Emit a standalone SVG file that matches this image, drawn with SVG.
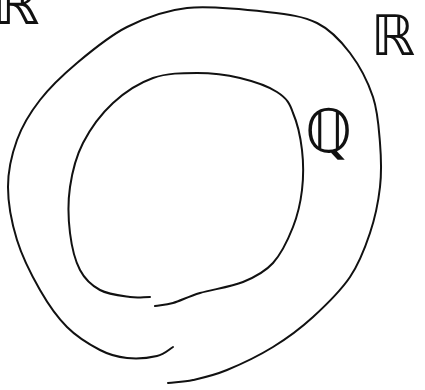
<svg xmlns="http://www.w3.org/2000/svg" width="425" height="390" viewBox="0 0 425 390">
<style>
.c{fill:none;stroke:#111;stroke-width:2;stroke-linecap:round;stroke-linejoin:round}
.t{font-family:"DejaVu Sans",sans-serif;fill:#111}
</style>
<rect width="425" height="390" fill="#fff"/>
<g id="connectors">
<path id="outer" class="c" d="M173,347 C168,350 164.7,354.2 157,356 C149.3,357.8 136.5,359 127,358 C117.5,357 110,355.2 100,350 C90,344.8 77,337 67,327 C57,317 48.3,304.5 40,290 C31.7,275.5 22.3,257.2 17,240 C11.7,222.8 8,203.7 8,187 C8,170.3 11.7,154.5 17,140 C22.3,125.5 30,112.8 40,100 C50,87.2 62.5,75.2 77,63 C91.5,50.8 108.7,36.2 127,27 C145.3,17.8 163.7,10.5 187,8 C210.3,5.5 245.3,9.5 267,12 C288.7,14.5 303.2,16.2 317,23 C330.8,29.8 340.7,40.7 350,53 C359.3,65.3 368,82 373,97 C378,112 378.8,128 380,143 C381.2,158 381.7,172 380,187 C378.3,202 375,218 370,233 C365,248 359.5,263 350,277 C340.5,291 325.8,305.3 313,317 C300.2,328.7 287.3,338.2 273,347 C258.7,355.8 240.3,364.5 227,370 C213.7,375.5 202.8,377.8 193,380 C183.2,382.2 176.3,382 168,383"/>
<path id="inner" class="c" d="M150,297 C143.3,297 138.3,298.2 130,297 C121.7,295.8 108.3,294.5 100,290 C91.7,285.5 85,279.5 80,270 C75,260.5 71.7,246.8 70,233 C68.3,219.2 67.8,202 70,187 C72.2,172 75.8,157 83,143 C90.2,129 101.3,113.8 113,103 C124.7,92.2 139,83 153,78 C167,73 182.5,73 197,73 C211.5,73 226.7,74.8 240,78 C253.3,81.2 267,85.5 277,92 C287,98.5 289.8,103.3 293,113 C297.2,122.7 300.5,137.2 302,150 C303.5,162.8 303.5,177.2 302,190 C300.5,202.8 297.8,214.8 293,227 C288.2,239.2 281.3,253.8 273,263 C264.7,272.2 255.2,277 243,282 C230.8,287 211.7,289.5 200,293 C188.3,296.5 180.5,300.8 173,303 C165.5,305.2 161,305 155,306"/>
</g>
<g id="label-R-left"><text class="t" x="-8" y="24" font-size="60">ℝ</text></g>
<g id="label-R-right"><text class="t" x="371" y="55" font-size="56">ℝ</text></g>
<g id="label-Q"><text class="t" x="305" y="152" font-size="60">ℚ</text></g>
</svg>
